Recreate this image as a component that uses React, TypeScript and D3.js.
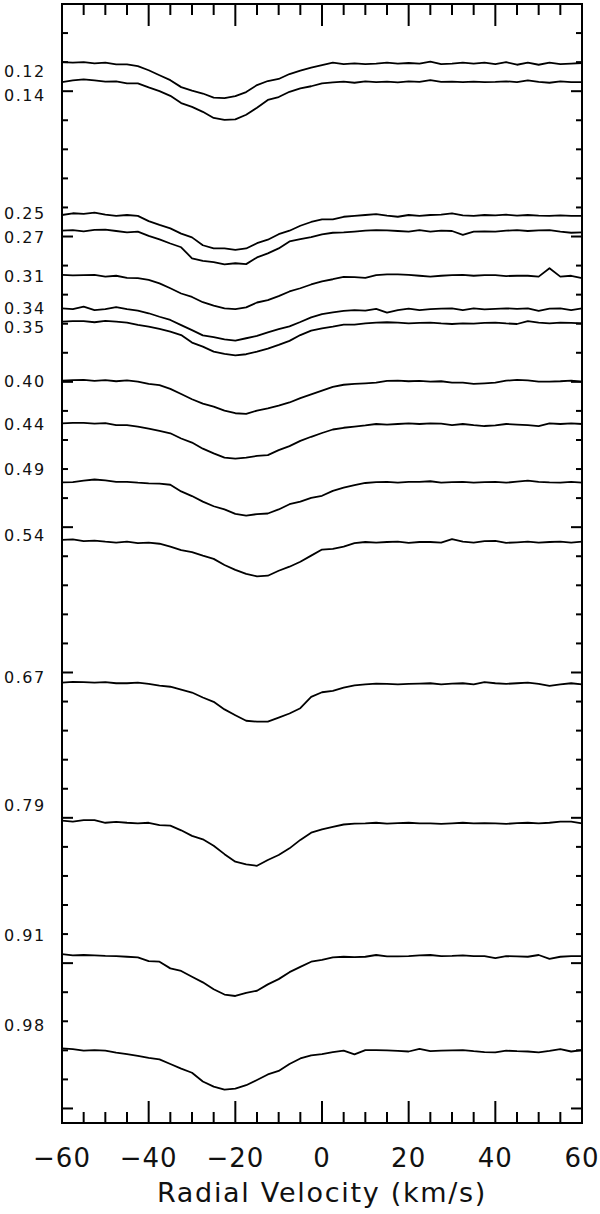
import { useEffect, useRef } from "react";
import * as d3 from "d3";

// velocity grid of the profiles (km/s)
const velocities = [
  -60, -57.5, -55, -52.5, -50, -47.5, -45, -42.5, -40, -37.5, -35, -32.5, -30,
  -27.5, -25, -22.5, -20, -17.5, -15, -12.5, -10, -7.5, -5, -2.5, 0, 2.5, 5,
  7.5, 10, 12.5, 15, 17.5, 20, 22.5, 25, 27.5, 30, 32.5, 35, 37.5, 40, 42.5, 45,
  47.5, 50, 52.5, 55, 57.5, 60,
];

// phase labels, continuum offsets of each profile, and label levels
const phases = ["0.12", "0.14", "0.25", "0.27", "0.31", "0.34", "0.35", "0.40", "0.44", "0.49", "0.54", "0.67", "0.79", "0.91", "0.98"];
const offsets = [3.6, 3.531, 3.074, 3.02, 2.868, 2.753, 2.707, 2.504, 2.357, 2.154, 1.956, 1.465, 0.99, 0.531, 0.207];
const labelLevels = [3.569, 3.485, 3.081, 2.997, 2.864, 2.754, 2.689, 2.503, 2.352, 2.2, 1.973, 1.484, 1.044, 0.597, 0.287];

const flux012 = [
  1.0, 0.998, 1.0, 0.996, 0.998, 0.992, 0.992, 0.986, 0.972, 0.955,
  0.938, 0.914, 0.902, 0.892, 0.878, 0.876, 0.883, 0.897, 0.921, 0.935,
  0.942, 0.959, 0.971, 0.981, 0.99, 0.998, 0.993, 0.996, 0.993, 0.995,
  0.998, 0.995, 0.997, 0.995, 1.002, 0.993, 0.995, 0.998, 0.995, 0.998,
  0.993, 1.0, 0.991, 0.998, 0.991, 0.998, 0.993, 0.995, 0.997,
];
const flux014 = [
  1.0, 1.006, 1.01, 1.006, 1.002, 1.003, 0.996, 0.996, 0.982, 0.969,
  0.953, 0.928, 0.915, 0.898, 0.877, 0.87, 0.872, 0.888, 0.912, 0.939,
  0.949, 0.967, 0.979, 0.986, 0.996, 0.999, 1.002, 0.998, 1.003, 1.0,
  1.002, 0.999, 1.003, 1.001, 1.007, 1.001, 1.002, 1.0, 1.002, 1.0,
  1.001, 1.003, 1.0, 1.006, 1.001, 0.998, 1.003, 1.0, 1.0,
];
const flux025 = [
  1.0, 1.006, 1.004, 1.008, 1.001, 0.997, 1.0, 0.997, 0.979, 0.966,
  0.954, 0.936, 0.923, 0.896, 0.885, 0.885, 0.88, 0.885, 0.903, 0.915,
  0.934, 0.946, 0.963, 0.976, 0.985, 0.985, 0.994, 0.997, 1.0, 1.003,
  0.998, 0.994, 1.0, 0.997, 1.0, 1.001, 1.006, 0.999, 0.997, 1.0,
  0.999, 1.001, 0.998, 1.0, 0.998, 0.997, 0.999, 0.997, 0.997,
];
const flux027 = [
  1.0, 1.002, 0.998, 1.003, 1.004, 0.999, 0.994, 0.997, 0.982, 0.97,
  0.956, 0.943, 0.905, 0.896, 0.892, 0.884, 0.888, 0.885, 0.908, 0.922,
  0.939, 0.963, 0.971, 0.978, 0.987, 0.993, 0.994, 0.997, 1.0, 1.002,
  1.001, 0.999, 0.997, 1.002, 0.997, 1.0, 0.999, 0.986, 0.997, 0.998,
  0.997, 1.0, 1.002, 0.999, 1.001, 1.002, 0.997, 0.993, 0.994,
];
const flux031 = [
  1.0, 0.998, 0.999, 1.0, 0.994, 0.997, 0.99, 0.989, 0.983, 0.971,
  0.954, 0.936, 0.924, 0.906, 0.894, 0.885, 0.882, 0.888, 0.905, 0.913,
  0.927, 0.943, 0.954, 0.967, 0.978, 0.985, 0.993, 0.992, 0.99, 0.999,
  1.002, 1.002, 1.0, 0.997, 0.994, 0.997, 0.999, 1.0, 0.997, 0.999,
  0.999, 0.996, 0.997, 0.997, 0.994, 1.023, 0.994, 0.997, 0.989,
];
const flux034 = [
  1.0, 0.997, 1.006, 0.994, 0.997, 1.004, 0.997, 0.992, 0.983, 0.971,
  0.96, 0.942, 0.925, 0.907, 0.901, 0.893, 0.889, 0.897, 0.905, 0.917,
  0.928, 0.938, 0.953, 0.969, 0.98, 0.986, 0.991, 0.994, 0.992, 0.998,
  0.985, 0.994, 0.999, 0.994, 0.997, 0.999, 1.0, 0.994, 1.0, 0.996,
  0.998, 1.0, 0.998, 1.0, 0.991, 0.999, 1.0, 0.994, 1.0,
];
const flux035 = [
  1.0, 1.002, 1.002, 0.998, 1.003, 1.0, 0.997, 0.989, 0.983, 0.975,
  0.966, 0.954, 0.928, 0.914, 0.897, 0.889, 0.884, 0.888, 0.897, 0.907,
  0.92, 0.934, 0.954, 0.969, 0.977, 0.983, 0.99, 0.99, 0.994, 0.997,
  0.998, 0.997, 0.994, 0.996, 0.997, 0.994, 0.992, 0.994, 0.993, 0.996,
  0.997, 0.994, 0.992, 1.002, 0.997, 0.994, 0.997, 0.996, 0.994,
];
const flux040 = [
  1.0, 1.002, 1.003, 0.999, 1.002, 0.998, 1.001, 0.997, 0.989, 0.985,
  0.972, 0.954, 0.936, 0.921, 0.911, 0.897, 0.888, 0.886, 0.897, 0.905,
  0.914, 0.925, 0.94, 0.953, 0.966, 0.979, 0.986, 0.989, 0.991, 0.993,
  0.999, 1.0, 0.998, 0.999, 0.997, 0.998, 0.993, 0.993, 0.989, 0.991,
  0.993, 1.0, 1.003, 1.001, 0.997, 0.997, 0.998, 1.0, 0.997,
];
const flux044 = [
  1.0, 1.002, 1.002, 0.999, 1.001, 0.994, 0.994, 0.989, 0.982, 0.974,
  0.966, 0.948, 0.934, 0.913, 0.897, 0.882, 0.879, 0.882, 0.888, 0.891,
  0.908, 0.922, 0.94, 0.954, 0.967, 0.979, 0.985, 0.989, 0.993, 0.998,
  0.996, 0.998, 1.0, 0.998, 1.0, 0.999, 0.994, 0.998, 0.994, 0.991,
  0.993, 0.998, 0.996, 0.994, 0.991, 1.0, 0.998, 1.0, 0.998,
];
const flux049 = [
  1.0, 1.001, 1.006, 1.01, 1.007, 1.002, 1.002, 0.999, 0.997, 0.996,
  0.992, 0.969, 0.953, 0.934, 0.918, 0.907, 0.892, 0.886, 0.891, 0.893,
  0.907, 0.925, 0.934, 0.947, 0.954, 0.971, 0.982, 0.991, 0.998, 1.001,
  1.002, 0.999, 1.002, 1.002, 1.004, 0.999, 1.001, 1.002, 0.999, 1.001,
  1.002, 0.999, 1.003, 1.006, 1.002, 1.0, 0.999, 1.002, 0.999,
];
const flux054 = [
  1.0, 1.002, 0.996, 0.998, 0.994, 0.991, 0.994, 0.989, 0.991, 0.987,
  0.977, 0.965, 0.958, 0.946, 0.935, 0.914, 0.897, 0.883, 0.875, 0.877,
  0.894, 0.908, 0.925, 0.946, 0.967, 0.969, 0.977, 0.989, 0.993, 0.991,
  0.993, 0.994, 0.99, 0.993, 0.993, 0.991, 1.003, 0.994, 0.991, 0.996,
  0.997, 0.99, 0.992, 0.994, 0.991, 0.993, 0.994, 0.991, 0.994,
];
const flux067 = [
  1.0, 1.003, 1.002, 1.0, 1.002, 0.998, 0.998, 1.0, 0.996, 0.99,
  0.986, 0.976, 0.966, 0.949, 0.934, 0.908, 0.888, 0.869, 0.866, 0.866,
  0.88, 0.894, 0.912, 0.951, 0.967, 0.972, 0.983, 0.991, 0.994, 0.997,
  0.996, 0.994, 0.996, 0.997, 0.998, 0.994, 0.997, 0.998, 0.994, 1.002,
  0.998, 0.996, 0.998, 1.0, 0.996, 0.989, 0.994, 0.998, 0.994,
];
const flux079 = [
  1.0, 0.997, 1.002, 1.002, 0.993, 0.996, 0.993, 0.991, 0.993, 0.985,
  0.983, 0.967, 0.948, 0.936, 0.914, 0.885, 0.859, 0.85, 0.845, 0.865,
  0.882, 0.905, 0.934, 0.959, 0.97, 0.979, 0.987, 0.99, 0.991, 0.993,
  0.99, 0.992, 0.993, 0.991, 0.991, 0.989, 0.991, 0.993, 0.991, 0.992,
  0.991, 0.989, 0.992, 0.993, 0.991, 0.993, 0.997, 0.997, 0.991,
];
const flux091 = [
  1.0, 0.996, 0.997, 0.996, 0.994, 0.993, 0.991, 0.989, 0.976, 0.974,
  0.951, 0.942, 0.922, 0.903, 0.879, 0.861, 0.856, 0.867, 0.874, 0.896,
  0.914, 0.938, 0.956, 0.974, 0.98, 0.989, 0.991, 0.99, 0.991, 0.997,
  0.992, 0.992, 0.993, 0.996, 0.997, 0.993, 0.994, 0.996, 0.993, 0.993,
  0.986, 0.993, 0.992, 0.991, 0.997, 0.984, 0.991, 0.993, 0.993,
];
const flux098 = [
  1.0, 0.997, 0.992, 0.994, 0.992, 0.985, 0.98, 0.974, 0.967, 0.962,
  0.946, 0.93, 0.916, 0.886, 0.868, 0.858, 0.861, 0.873, 0.891, 0.91,
  0.922, 0.946, 0.965, 0.976, 0.98, 0.987, 0.992, 0.979, 0.994, 0.994,
  0.993, 0.991, 0.989, 0.998, 0.99, 0.992, 0.993, 0.994, 0.99, 0.987,
  0.986, 0.992, 0.99, 0.989, 0.986, 0.991, 0.997, 0.989, 0.994,
];

const profiles = [
  flux012, flux014, flux025, flux027, flux031, flux034, flux035, flux040,
  flux044, flux049, flux054, flux067, flux079, flux091, flux098,
];

const xTickLabels = [-60, -40, -20, 0, 20, 40, 60];

const W = 600;
const H = 1214;

const LineProfiles = () => {
  const ref = useRef<SVGSVGElement | null>(null);

  useEffect(() => {
    const svg = d3.select(ref.current);
    svg.selectAll("*").remove();

    const x = d3.scaleLinear().domain([-60, 60]).range([62, 582]);
    const y = d3.scaleLinear().domain([-0.05, 3.8]).range([1123, 4]);
    const [x0, x1] = x.range();
    const [yb, yt] = y.range();

    const line = d3
      .line<number>()
      .x((_, i) => x(velocities[i]))
      .y((d) => y(d));

    profiles.forEach((flux, k) => {
      svg
        .append("path")
        .attr("d", line(flux.map((f) => offsets[k] + f - 1)))
        .attr("fill", "none")
        .attr("stroke", "#000")
        .attr("stroke-width", 1.8)
        .attr("stroke-linejoin", "round");
    });

    // velocity ticks, bottom and top
    d3.range(-55, 60, 5).forEach((v) => {
      const len = v % 20 === 0 ? 22 : 11;
      svg.append("line").attr("x1", x(v)).attr("x2", x(v))
        .attr("y1", yb).attr("y2", yb - len)
        .attr("stroke", "#000").attr("stroke-width", 2);
      svg.append("line").attr("x1", x(v)).attr("x2", x(v))
        .attr("y1", yt).attr("y2", yt + len)
        .attr("stroke", "#000").attr("stroke-width", 2);
    });

    // flux ticks, left and right
    d3.range(0, 38).forEach((i) => {
      const v = i / 10;
      const len = i % 5 === 0 ? 11 : 6;
      svg.append("line").attr("x1", x0).attr("x2", x0 + len)
        .attr("y1", y(v)).attr("y2", y(v))
        .attr("stroke", "#000").attr("stroke-width", 2);
      svg.append("line").attr("x1", x1).attr("x2", x1 - len)
        .attr("y1", y(v)).attr("y2", y(v))
        .attr("stroke", "#000").attr("stroke-width", 2);
    });

    svg
      .append("rect")
      .attr("x", x0)
      .attr("y", yt)
      .attr("width", x1 - x0)
      .attr("height", yb - yt)
      .attr("fill", "none")
      .attr("stroke", "#000")
      .attr("stroke-width", 2);

    phases.forEach((p, k) => {
      svg
        .append("text")
        .attr("x", 4)
        .attr("y", y(labelLevels[k]))
        .attr("dy", "0.35em")
        .attr("font-family", "DejaVu Sans, sans-serif")
        .attr("font-size", 16)
        .attr("letter-spacing", 1.5)
        .attr("fill", "#111")
        .text(p);
    });

    xTickLabels.forEach((v) => {
      svg
        .append("text")
        .attr("x", x(v))
        .attr("y", 1167)
        .attr("text-anchor", "middle")
        .attr("font-family", "DejaVu Sans, sans-serif")
        .attr("font-size", 26)
        .attr("letter-spacing", 1)
        .attr("fill", "#111")
        .text(v < 0 ? `\u2212${Math.abs(v)}` : `${v}`);
    });

    svg
      .append("text")
      .attr("x", (x0 + x1) / 2)
      .attr("y", 1202)
      .attr("text-anchor", "middle")
      .attr("font-family", "DejaVu Sans, sans-serif")
      .attr("font-size", 27)
      .attr("letter-spacing", 1.7)
      .attr("fill", "#111")
      .text("Radial Velocity (km/s)");
  }, []);

  return (
    <svg
      ref={ref}
      width={W}
      height={H}
      style={{ position: "absolute", left: 0, top: 0, background: "#fff" }}
    />
  );
};

export default function App() {
  return <LineProfiles />;
}
